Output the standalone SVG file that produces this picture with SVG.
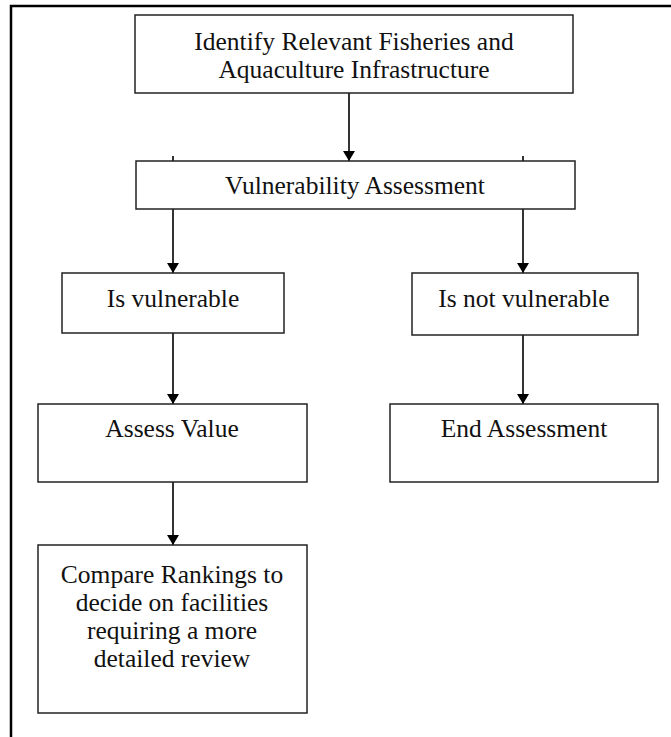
<svg xmlns="http://www.w3.org/2000/svg" width="671" height="737" viewBox="0 0 671 737">
<style>
.box{fill:#fff;stroke:#222;stroke-width:1.5}
.t{font-family:"Liberation Serif","Times New Roman",serif;font-size:25.5px;fill:#111;text-anchor:middle}
.c{stroke:#000;stroke-width:1.6;fill:none}
.frame{stroke:#000;stroke-width:2.5;fill:none}
</style>
<defs>
<marker id="ah" viewBox="0 0 10 12" refX="10" refY="6" markerWidth="10" markerHeight="12" markerUnits="userSpaceOnUse" orient="auto">
<path d="M0,0 L10,6 L0,12 Z" fill="#000"/>
</marker>
</defs>
<rect width="671" height="737" fill="#fff"/>
<path class="frame" d="M11,737 L11,6 L671,6"/>
<g id="connectors">
<line class="c" x1="349" y1="93" x2="349" y2="161" marker-end="url(#ah)"/>
<line class="c" x1="173" y1="156" x2="173" y2="273" marker-end="url(#ah)"/>
<line class="c" x1="523" y1="156" x2="523" y2="273" marker-end="url(#ah)"/>
<line class="c" x1="173" y1="333" x2="173" y2="404" marker-end="url(#ah)"/>
<line class="c" x1="523" y1="335" x2="523" y2="404" marker-end="url(#ah)"/>
<line class="c" x1="173" y1="482" x2="173" y2="545" marker-end="url(#ah)"/>
</g>
<g id="n1">
<rect class="box" x="135" y="15" width="438" height="78"/>
<text class="t" x="354" y="50">Identify Relevant Fisheries and</text>
<text class="t" x="354" y="78">Aquaculture Infrastructure</text>
</g>
<g id="n2">
<rect class="box" x="136" y="161" width="439" height="48"/>
<text class="t" x="355" y="194">Vulnerability Assessment</text>
</g>
<g id="n3">
<rect class="box" x="62" y="273" width="222" height="60"/>
<text class="t" x="173" y="307">Is vulnerable</text>
</g>
<g id="n4">
<rect class="box" x="412" y="273" width="226" height="62"/>
<text class="t" x="524" y="307">Is not vulnerable</text>
</g>
<g id="n5">
<rect class="box" x="38" y="404" width="269" height="78"/>
<text class="t" x="172" y="437">Assess Value</text>
</g>
<g id="n6">
<rect class="box" x="390" y="404" width="268" height="78"/>
<text class="t" x="524" y="437">End Assessment</text>
</g>
<g id="n7">
<rect class="box" x="38" y="545" width="269" height="168"/>
<text class="t" x="172" y="583">Compare Rankings to</text>
<text class="t" x="172" y="611">decide on facilities</text>
<text class="t" x="172" y="639">requiring a more</text>
<text class="t" x="172" y="667">detailed review</text>
</g>
</svg>
